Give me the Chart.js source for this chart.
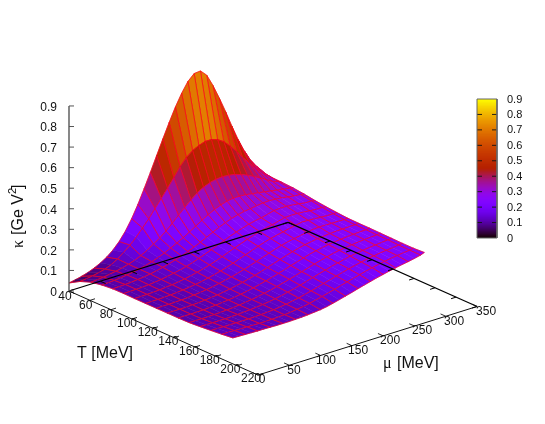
<!DOCTYPE html>
<html>
<head>
<meta charset="utf-8">
<script src="https://cdn.jsdelivr.net/npm/chart.js@4/dist/chart.umd.min.js"></script>
<style>
html, body { margin: 0; padding: 0; background: #fff; }
canvas { display: block; }
</style>
</head>
<body>
<canvas id="surface" width="545" height="424"></canvas>
<script>
var tValues = [40, 50.4, 60.8, 71.2, 81.6, 92, 102.4, 112.8, 123.2, 133.6, 144, 154.4, 164.8, 175.2, 185.6, 196];
var muValues = [0, 10, 20, 30, 40, 50, 60, 70, 80, 90, 100, 110, 120, 130, 140, 150, 160, 170, 180, 190, 200, 210, 220, 230, 240, 250, 260, 270, 280, 290, 300, 306];

// one row per T, one column per mu
var kappa = [
    [.039,.045,.052,.061,.073,.088,.107,.132,.164,.205, .256,.316,.383,.453,.525,.597,.667,.733,.79,.838, .867,.87,.84,.78,.71,.635,.555,.48,.415,.36, .32,.292],
    [.07,.073,.078,.084,.092,.104,.122,.145,.17,.20, .235,.27,.31,.35,.39,.432,.475,.51,.535,.55, .56,.56,.55,.53,.50,.465,.425,.39,.355,.325, .30,.285],
    [.09,.092,.095,.10,.105,.112,.12,.13,.143,.16, .18,.20,.224,.252,.282,.31,.338,.362,.38,.393, .40,.403,.40,.395,.385,.372,.357,.34,.322,.304, .293,.283],
    [.10,.101,.103,.106,.11,.115,.12,.128,.137,.148, .16,.175,.19,.206,.224,.243,.262,.28,.295,.308, .317,.322,.322,.32,.315,.31,.305,.30,.295,.29, .285,.28],
    [.105,.106,.107,.109,.112,.115,.12,.126,.133,.141, .15,.16,.172,.184,.198,.213,.228,.242,.255,.266, .275,.281,.285,.29,.294,.295,.293,.29,.285,.28, .278,.274],
    [.106,.106,.107,.108,.11,.113,.117,.122,.128,.134, .142,.151,.162,.173,.185,.198,.21,.222,.233,.243, .252,.259,.264,.272,.28,.282,.282,.279,.275,.27, .27,.266],
    [.105,.105,.106,.107,.109,.112,.115,.119,.124,.13, .137,.145,.154,.164,.175,.187,.199,.21,.221,.231, .24,.248,.254,.262,.27,.271,.271,.268,.265,.262, .262,.26],
    [.105,.105,.105,.106,.108,.11,.113,.117,.121,.126, .133,.14,.148,.157,.167,.178,.189,.20,.211,.221, .23,.237,.243,.25,.256,.262,.261,.259,.257,.255, .255,.255],
    [.105,.105,.105,.106,.107,.109,.112,.115,.119,.124, .13,.136,.143,.151,.16,.17,.18,.191,.201,.211, .22,.228,.234,.239,.245,.25,.252,.252,.251,.251, .25,.251],
    [.105,.105,.105,.105,.107,.108,.111,.114,.117,.122, .127,.133,.14,.147,.155,.164,.174,.184,.194,.204, .213,.221,.228,.233,.238,.241,.244,.246,.247,.248, .249,.25],
    [.105,.105,.105,.105,.106,.108,.11,.113,.116,.12, .125,.13,.137,.144,.152,.16,.169,.178,.188,.197, .206,.215,.222,.228,.233,.237,.24,.243,.245,.247, .248,.25],
    [.106,.106,.106,.106,.107,.108,.11,.112,.115,.119, .123,.128,.134,.14,.148,.156,.164,.173,.182,.191, .20,.208,.216,.223,.229,.233,.237,.24,.243,.245, .247,.249],
    [.11,.11,.11,.11,.11,.111,.112,.114,.116,.119, .122,.126,.131,.137,.144,.151,.159,.168,.177,.186, .194,.203,.21,.217,.224,.229,.233,.237,.24,.243, .246,.248],
    [.115,.115,.114,.114,.114,.114,.114,.115,.116,.118, .12,.124,.128,.134,.14,.147,.155,.163,.172,.18, .189,.197,.205,.212,.219,.225,.23,.234,.238,.241, .244,.247],
    [.12,.12,.119,.118,.118,.117,.116,.116,.117,.118, .12,.123,.127,.131,.137,.144,.151,.159,.167,.176, .184,.192,.20,.208,.215,.221,.227,.232,.236,.24, .243,.247],
    [.126,.125,.124,.123,.122,.122,.121,.12,.12,.12, .121,.122,.124,.127,.13,.135,.142,.15,.158,.166, .175,.183,.191,.199,.206,.213,.219,.225,.23,.236, .243,.25]
];

var tTicks = [40, 60, 80, 100, 120, 140, 160, 180, 200, 220];
var muTicks = [0, 50, 100, 150, 200, 250, 300, 350];
var zTicks = ['0', '0.1', '0.2', '0.3', '0.4', '0.5', '0.6', '0.7', '0.8', '0.9'];

var zMax = 0.9;
var meshColor = 'rgb(255,0,30)';

// gnuplot style orthographic view, result is in canvas pixels
function projX(t, mu, z) {
    return 69 + 1.05 * (t - 40) + 0.626 * mu;
}
function projY(t, mu, z) {
    return 291 + 0.467 * (t - 40) - 0.196 * mu - 205.6 * z;
}
function pt(t, mu, z) {
    return { x: projX(t, mu, z), y: projY(t, mu, z) };
}

// pm3d default palette 7,5,15
function palette(v) {
    var r = Math.sqrt(v);
    var g = v * v * v;
    var b = Math.max(0, Math.sin(2 * Math.PI * v));
    return 'rgb(' + Math.round(r * 255) + ',' + Math.round(g * 255) + ',' + Math.round(b * 255) + ')';
}

function line(points, color, width) {
    return {
        data: points,
        showLine: true,
        fill: false,
        borderColor: color,
        borderWidth: width,
        pointRadius: 0,
        tension: 0
    };
}

// the mesh is finer near the peak, odd mu lines only show there
function muLineShown(i, j) {
    if (j % 2 === 0 || j === muValues.length - 1) return true;
    return i <= 3 && j >= 11;
}

function surfaceCells() {
    var cells = [];
    // back to front so nearer cells paint over farther ones
    for (var i = 0; i < tValues.length - 1; i++) {
        for (var j = muValues.length - 2; j >= 0; j--) {
            var a = pt(tValues[i], muValues[j], kappa[i][j]);
            var b = pt(tValues[i], muValues[j + 1], kappa[i][j + 1]);
            var c = pt(tValues[i + 1], muValues[j + 1], kappa[i + 1][j + 1]);
            var d = pt(tValues[i + 1], muValues[j], kappa[i + 1][j]);
            var mean = (kappa[i][j] + kappa[i][j + 1] + kappa[i + 1][j + 1] + kappa[i + 1][j]) / 4;
            var color = palette(mean / zMax);
            cells.push({
                data: [a, b, c, d, a],
                showLine: true,
                fill: 'shape',
                backgroundColor: color,
                borderColor: color,
                borderWidth: 0.5,
                pointRadius: 0,
                tension: 0
            });
            var showLeft = muLineShown(i, j), showRight = muLineShown(i, j + 1);
            var edges;
            if (showLeft && showRight) edges = [a, b, c, d, a];
            else if (showRight) edges = [a, b, c, d];
            else if (showLeft) edges = [b, a, d, c];
            cells.push(line(edges, meshColor, 0.7));
        }
    }
    return cells;
}

function baseLines() {
    var out = [];
    out.push(line([pt(40, 0, 0), pt(220, 0, 0)], '#111', 1));
    out.push(line([pt(220, 0, 0), pt(220, 350, 0)], '#111', 1));
    out.push(line([pt(40, 0, 0), pt(40, 350, 0)], '#000', 1.2));
    out.push(line([pt(40, 350, 0), pt(220, 350, 0)], '#000', 1.2));
    tTicks.forEach(function (t) {
        out.push(line([pt(t, 0, 0), pt(t, 8, 0)], '#111', 0.9));
        out.push(line([pt(t, 350, 0), pt(t, 342, 0)], '#000', 1));
    });
    muTicks.forEach(function (mu) {
        out.push(line([pt(220, mu, 0), pt(215, mu, 0)], '#111', 0.9));
        out.push(line([pt(40, mu, 0), pt(45, mu, 0)], '#000', 1));
    });
    return out;
}

function zAxis() {
    var out = [line([pt(40, 0, 0), pt(40, 0, zMax)], '#555', 1.4)];
    zTicks.forEach(function (label) {
        var z = parseFloat(label);
        out.push(line([{ x: 69, y: projY(40, 0, z) }, { x: 74, y: projY(40, 0, z) }], '#555', 1));
    });
    return out;
}

function barY(z) {
    return 238 - 139 * z / zMax;
}

function colorBar() {
    var out = [];
    var steps = 128;
    // nested bands, lowest first, so no seams show between them
    for (var s = 0; s < steps; s++) {
        var z = zMax * s / steps;
        out.push({
            data: [{ x: 477, y: barY(z) }, { x: 497, y: barY(z) }, { x: 497, y: 99 }, { x: 477, y: 99 }, { x: 477, y: barY(z) }],
            showLine: true,
            fill: 'shape',
            backgroundColor: palette((s + 0.5) / steps),
            borderWidth: 0,
            pointRadius: 0,
            tension: 0
        });
    }
    zTicks.forEach(function (label) {
        var z = parseFloat(label);
        if (z > 0 && z < zMax) {
            out.push(line([{ x: 477, y: barY(z) }, { x: 482, y: barY(z) }], '#111', 0.9));
            out.push(line([{ x: 492, y: barY(z) }, { x: 497, y: barY(z) }], '#111', 0.9));
        }
    });
    out.push(line([{ x: 477, y: 99 }, { x: 497, y: 99 }, { x: 497, y: 238 }, { x: 477, y: 238 }, { x: 477, y: 99 }], '#666', 1));
    return out;
}

var textPlugin = {
    id: 'texts',
    afterDraw: function (chart) {
        var ctx = chart.ctx;
        var sx = chart.scales.x, sy = chart.scales.y;
        var sans = '"Liberation Sans", Arial, sans-serif';
        var serif = '"Liberation Serif", serif';
        function text(s, x, y, align, font) {
            ctx.font = font;
            ctx.textAlign = align;
            ctx.fillText(s, sx.getPixelForValue(x), sy.getPixelForValue(y));
        }
        ctx.save();
        ctx.fillStyle = '#111';
        ctx.textBaseline = 'middle';
        zTicks.forEach(function (label) {
            var z = parseFloat(label);
            text(label, 57, projY(40, 0, z) + 1.5, 'right', '12px ' + sans);
            text(label, 507, barY(z) + 0.5, 'left', '11px ' + sans);
        });
        tTicks.forEach(function (t) {
            text(String(t), projX(t, 0, 0) - 4 - 3 * (t - 40) / 180, projY(t, 0, 0) + 5.5 - 2 * (t - 40) / 180, 'center', '12px ' + sans);
        });
        muTicks.forEach(function (mu) {
            text(String(mu), projX(220, mu, 0) + 4 + 5 * mu / 350, projY(220, mu, 0) + 5, 'center', '12px ' + sans);
        });
        ctx.textBaseline = 'alphabetic';
        text('T [MeV]', 77, 358, 'left', '16px ' + sans);
        text('\u03bc', 383, 368, 'left', '16px ' + serif);
        text('[MeV]', 397, 368, 'left', '16px ' + sans);

        // rotated title with a raised 2
        ctx.translate(sx.getPixelForValue(23), sy.getPixelForValue(248));
        ctx.rotate(-Math.PI / 2);
        ctx.textAlign = 'left';
        ctx.font = '16px ' + serif;
        ctx.fillText('\u03ba', 0, 0);
        ctx.font = '16px ' + sans;
        ctx.fillText('[Ge V', 13, 0);
        var w = ctx.measureText('[Ge V').width;
        ctx.font = '11px ' + sans;
        ctx.fillText('2', 13 + w, -7);
        ctx.font = '16px ' + sans;
        ctx.fillText(']', 13 + w + 5, 0);
        ctx.restore();
    }
};

function buildSurface() {
    var paintOrder = surfaceCells()
        .concat(baseLines())
        .concat(zAxis())
        .concat(colorBar());
    // Chart.js paints the last dataset first
    paintOrder.reverse();

    var ctx = document.getElementById('surface').getContext('2d');
    new Chart(ctx, {
        type: 'scatter',
        data: { datasets: paintOrder },
        options: {
            responsive: false,
            animation: false,
            events: [],
            layout: { padding: 0 },
            plugins: { legend: { display: false }, tooltip: { enabled: false } },
            scales: {
                x: { type: 'linear', min: 0, max: 545, display: false },
                y: { type: 'linear', min: 0, max: 424, reverse: true, display: false }
            }
        },
        plugins: [textPlugin]
    });
}

buildSurface();
</script>
</body>
</html>
